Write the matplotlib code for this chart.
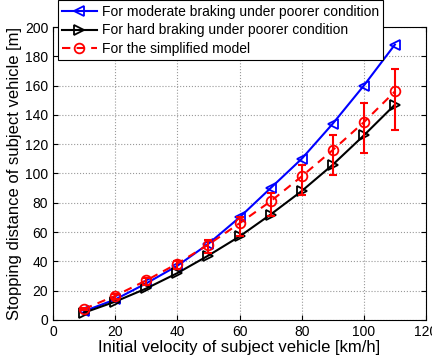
import numpy as np
import matplotlib.pyplot as plt

plt.rcParams['font.family'] = ['Liberation Sans', 'DejaVu Sans']

speed = [10, 20, 30, 40, 50, 60, 70, 80, 90, 100, 110]
moderate = [6, 14, 25, 37, 52, 70, 90, 110, 134, 160, 188]
hard = [5, 12.5, 21.5, 32, 44, 57, 72, 88, 106, 126, 147]
simplified = [7.5, 16.5, 27, 38.5, 51.5, 66, 81, 98, 116, 135, 156]
err_low = [1, 2, 3, 4, 6, 9, 10, 13, 17, 21, 26]
err_high = [0.5, 1, 1.5, 2, 3, 4, 6, 8, 10, 13, 15]

fig = plt.figure(figsize=(4.32, 3.61), dpi=100)
ax = fig.add_axes([0.1227, 0.1136, 0.8634, 0.8116])

ax.plot(speed, moderate, color='b', marker='<', mfc='none', ms=7, mew=1.3, lw=1.5,
        label='For moderate braking under poorer condition')
ax.plot(speed, hard, color='k', marker='>', mfc='none', ms=7, mew=1.3, lw=1.5,
        label='For hard braking under poorer condition')
ax.errorbar(speed, simplified, yerr=[err_low, err_high], fmt='none', ecolor='r',
            capsize=3, elinewidth=1.5, capthick=1.5)
ax.plot(speed, simplified, color='r', marker='o', mfc='none', ms=7, mew=1.3, lw=1.5,
        ls='--', dashes=(4, 3), label='For the simplified model')

ax.set_xlim(0, 120)
ax.set_ylim(0, 200)
ax.set_xticks(np.arange(0, 121, 20))
ax.set_yticks(np.arange(0, 201, 20))
ax.grid(True, ls=':', color='0.6', lw=0.8)
ax.tick_params(direction='in', top=True, right=True, labelsize=10)
for s in ax.spines.values():
    s.set_linewidth(0.8)
ax.set_xlabel('Initial velocity of subject vehicle [km/h]', fontsize=12, labelpad=1)
ax.set_ylabel('Stopping distance of subject vehicle [m]', fontsize=12, labelpad=2)

leg = ax.legend(loc='upper left', bbox_to_anchor=(0.134, 0.999), bbox_transform=fig.transFigure,
                fontsize=10, frameon=True, fancybox=False, framealpha=1, edgecolor='k',
                borderpad=0.3, labelspacing=0.35, handlelength=2.5, handletextpad=0.35,
                borderaxespad=0)
leg.get_frame().set_linewidth(0.8)

fig.savefig('out.png', dpi=100)
